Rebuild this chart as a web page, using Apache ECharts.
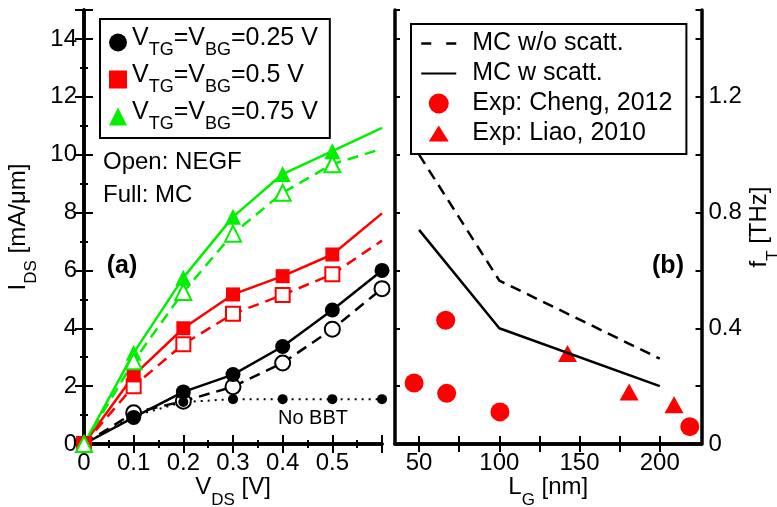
<!DOCTYPE html>
<html>
<head>
<meta charset="utf-8">
<script src="https://cdn.jsdelivr.net/npm/echarts@6/dist/echarts.min.js"></script>
<style>html,body{margin:0;padding:0;background:#fff}#c{width:777px;height:507px}</style>
</head>
<body>
<div id="c"></div>
<script>
// ---------- data: panel (a) ----------
const vds      = [0, 0.1, 0.2, 0.3, 0.4, 0.5, 0.6];
const mc025    = [0, 0.92, 1.8, 2.4, 3.37, 4.63, 6.0];
const negf025  = [0, 1.08, 1.48, 1.98, 2.8, 3.97, 5.37];
const noBBT    = [0, 0.97, 1.45, 1.55, 1.55, 1.55, 1.55];
const mc05     = [0, 2.37, 4.0, 5.17, 5.8, 6.55, 7.97];
const negf05   = [0, 2.0, 3.45, 4.5, 5.15, 5.87, 7.03];
const mc075    = [0, 3.15, 5.75, 7.85, 9.33, 10.12, 10.93];
const negf075  = [0, 2.86, 5.25, 7.27, 8.68, 9.67, 10.2];
const vdsTicks = [0, 0.1, 0.2, 0.3, 0.4, 0.5];
// ---------- data: panel (b) ----------
const lgLine       = [50, 100, 200];
const ftNoScatt    = [1.0, 0.565, 0.295];
const ftScatt      = [0.74, 0.40, 0.20];
const chengLg      = [46.9, 66.6, 67.2, 100.4, 218.7];
const chengFt      = [0.211, 0.428, 0.175, 0.111, 0.060];
const liaoLg       = [142.5, 180.9, 208.9];
const liaoFt       = [0.313, 0.180, 0.136];
const lgTickLabels = [50, 100, 150, 200];
const lgTicks      = [50, 75, 100, 125, 150, 175, 200];
const ftTickLabels = [0, 0.4, 0.8, 1.2];

const FONT = '"Liberation Sans", Arial, Helvetica, sans-serif';
const RED = '#ff0000', GREEN = '#00f000', BLACK = '#000000';

function pairs(xs, ys) { return xs.map((x, i) => [x, ys[i]]); }
function pairsNoSym(xs, ys, noSym) {
  return xs.map((x, i) => noSym.indexOf(i) >= 0 ? {value: [x, ys[i]], symbol: 'none'} : [x, ys[i]]);
}

const richSub = {
  n: {fontSize: 24, fontFamily: FONT, color: '#000', verticalAlign: 'top', lineHeight: 24},
  s: {fontSize: 17, fontFamily: FONT, color: '#000', verticalAlign: 'bottom', lineHeight: 34}
};
const richLeg = {
  n: {fontSize: 25, fontFamily: FONT, color: '#000', verticalAlign: 'top', lineHeight: 25},
  s: {fontSize: 18, fontFamily: FONT, color: '#000', verticalAlign: 'bottom', lineHeight: 33}
};

const legNames = {
  'g025': '{n|V}{s|TG}{n|=V}{s|BG}{n|=0.25 V}',
  'g05':  '{n|V}{s|TG}{n|=V}{s|BG}{n|=0.5 V}',
  'g075': '{n|V}{s|TG}{n|=V}{s|BG}{n|=0.75 V}'
};

const TRI_ICON = 'path://M0,0 L0,0 M0,18 L10,2 L20,18 Z M20,20 L20,20';
const hiddenSym = {color: 'rgba(0,0,0,0)', borderColor: 'rgba(0,0,0,0)', borderWidth: 0, opacity: 0};

const axisLine = {show: true, lineStyle: {color: BLACK, width: 3.5}};
const tick = {show: true, inside: true, length: 9, lineStyle: {color: BLACK, width: 2}};
const minor = {show: true, splitNumber: 2, length: 4, lineStyle: {color: BLACK, width: 2}};
const lbl = {color: BLACK, fontSize: 24, fontFamily: FONT, margin: 7};

const dash = [11, 7];

const option = {
  animation: false,
  backgroundColor: '#fff',
  grid: [
    {left: 84, top: 10, width: 298, height: 434, outerBoundsMode: 'none', containLabel: false},
    {left: 395, top: 10, width: 306.5, height: 434, outerBoundsMode: 'none', containLabel: false}
  ],
  xAxis: [
    {gridIndex: 0, type: 'value', position: 'bottom', min: 0, max: 0.6, interval: 0.1,
     axisLine, axisTick: tick, minorTick: minor, splitLine: {show: false},
     axisLabel: Object.assign({}, lbl, {formatter: v => vdsTicks.some(t => Math.abs(t - v) < 1e-6) ? String(+v.toFixed(1)) : ''}),
     name: '{n|V}{s|DS}{n| [V]}', nameLocation: 'middle', nameGap: 31, nameMoveOverlap: false,
     nameTextStyle: {rich: richSub, verticalAlign: 'top'}},
    {gridIndex: 0, type: 'value', position: 'top', min: 0, max: 0.6, interval: 0.1,
     axisLine, axisTick: tick, minorTick: minor, splitLine: {show: false}, axisLabel: {show: false}},
    {gridIndex: 1, type: 'value', position: 'bottom', min: 35, max: 226,
     axisLine, axisTick: Object.assign({}, tick, {customValues: lgTicks, length: 8}),
     splitLine: {show: false},
     axisLabel: Object.assign({}, lbl, {customValues: lgTickLabels}),
     name: '{n|L}{s|G}{n| [nm]}', nameLocation: 'middle', nameGap: 31, nameMoveOverlap: false,
     nameTextStyle: {rich: richSub, verticalAlign: 'top'}},
    {gridIndex: 1, type: 'value', position: 'top', min: 35, max: 226,
     axisLine, axisTick: Object.assign({}, tick, {customValues: lgTicks, length: 8}),
     splitLine: {show: false}, axisLabel: {show: false}}
  ],
  yAxis: [
    {gridIndex: 0, type: 'value', position: 'left', min: 0, max: 15, interval: 2,
     axisLine, axisTick: tick, minorTick: minor, splitLine: {show: false},
     axisLabel: Object.assign({}, lbl, {formatter: v => (Math.round(v) % 2 === 0 && v < 15) ? String(v) : ''}),
     name: '{n|I}{s|DS}{n| [mA/μm]}', nameLocation: 'middle', nameGap: 44, nameRotate: 90,
     nameTextStyle: {rich: richSub}},
    {gridIndex: 0, type: 'value', position: 'right', min: 0, max: 15, interval: 2,
     axisLine, axisTick: tick, minorTick: minor, splitLine: {show: false}, axisLabel: {show: false}},
    {gridIndex: 1, type: 'value', position: 'left', min: 0, max: 1.5, interval: 0.2,
     axisLine, axisTick: Object.assign({}, tick, {length: 5}), splitLine: {show: false}, axisLabel: {show: false}},
    {gridIndex: 1, type: 'value', position: 'right', min: 0, max: 1.5, interval: 0.2,
     axisLine, axisTick: Object.assign({}, tick, {length: 6}), splitLine: {show: false},
     axisLabel: Object.assign({}, lbl, {formatter: v => ftTickLabels.some(t => Math.abs(t - v) < 1e-6) ? String(+v.toFixed(1)) : ''}),
     name: '{n|f}{s|T}{n| [THz]}', nameLocation: 'middle', nameGap: 46, nameRotate: 90,
     nameTextStyle: {rich: richSub}}
  ],
  legend: [
    {orient: 'vertical', left: 100, top: 19, padding: [7, 12, 5, 9], itemGap: 4,
     itemWidth: 18, itemHeight: 18, borderColor: BLACK, borderWidth: 2, backgroundColor: '#fff',
     selectedMode: false, symbolKeepAspect: true,
     formatter: name => legNames[name],
     textStyle: {rich: richLeg},
     data: [{name: 'g025', icon: 'circle'}, {name: 'g05', icon: 'rect'}, {name: 'g075', icon: 'triangle'}]},
    {orient: 'vertical', left: 411, top: 24, padding: [7, 14, 8, 9], itemGap: 5,
     itemWidth: 35, itemHeight: 20, borderColor: BLACK, borderWidth: 2, backgroundColor: '#fff',
     selectedMode: false, symbolKeepAspect: true,
     textStyle: {fontSize: 25, fontFamily: FONT, color: BLACK, padding: [0, 0, 0, 11]},
     data: [{name: 'MC w/o scatt.', lineStyle: {type: [10, 15], width: 2.5}, itemStyle: hiddenSym},
            {name: 'MC w scatt.', itemStyle: hiddenSym},
            {name: 'Exp: Cheng, 2012', icon: 'circle'},
            {name: 'Exp: Liao, 2010', icon: TRI_ICON}]}
  ],
  series: [
    // black, VTG=VBG=0.25 V
    {name: 'negf025', type: 'line', xAxisIndex: 0, yAxisIndex: 0, data: pairsNoSym(vds, negf025, [0]),
     symbol: 'circle', symbolSize: 15, lineStyle: {color: BLACK, width: 2.5, type: dash},
     itemStyle: {color: '#fff', borderColor: BLACK, borderWidth: 2}},
    {name: 'nobbt', type: 'line', xAxisIndex: 0, yAxisIndex: 0, data: pairsNoSym(vds, noBBT, [0, 1]),
     symbol: 'circle', symbolSize: 10, lineStyle: {color: BLACK, width: 2, type: [2, 5]},
     itemStyle: {color: BLACK}},
    {name: 'g025', type: 'line', xAxisIndex: 0, yAxisIndex: 0, data: pairsNoSym(vds, mc025, [0]),
     symbol: 'circle', symbolSize: 15, lineStyle: {color: BLACK, width: 2.5}, itemStyle: {color: BLACK}},
    // red, 0.5 V
    {name: 'negf05', type: 'line', xAxisIndex: 0, yAxisIndex: 0, data: pairsNoSym(vds, negf05, [6]),
     symbol: 'rect', symbolSize: 14, lineStyle: {color: RED, width: 2.5, type: dash},
     itemStyle: {color: '#fff', borderColor: RED, borderWidth: 2}},
    {name: 'g05', type: 'line', xAxisIndex: 0, yAxisIndex: 0, data: pairsNoSym(vds, mc05, [6]),
     symbol: 'rect', symbolSize: 14, lineStyle: {color: RED, width: 2.5}, itemStyle: {color: RED}},
    // green, 0.75 V
    {name: 'g075', type: 'line', xAxisIndex: 0, yAxisIndex: 0, data: pairsNoSym(vds, mc075, [6]),
     symbol: 'triangle', symbolSize: [16, 16], lineStyle: {color: GREEN, width: 2.5}, itemStyle: {color: GREEN}},
    {name: 'negf075', type: 'line', xAxisIndex: 0, yAxisIndex: 0, data: pairsNoSym(vds, negf075, [6]),
     symbol: 'triangle', symbolSize: [16, 16], lineStyle: {color: GREEN, width: 2.5, type: dash},
     itemStyle: {color: '#fff', borderColor: GREEN, borderWidth: 2}},
    // panel (b)
    {name: 'MC w/o scatt.', type: 'line', xAxisIndex: 2, yAxisIndex: 2, data: pairs(lgLine, ftNoScatt),
     symbol: 'none', lineStyle: {color: BLACK, width: 2.5, type: dash}, itemStyle: {color: BLACK}},
    {name: 'MC w scatt.', type: 'line', xAxisIndex: 2, yAxisIndex: 2, data: pairs(lgLine, ftScatt),
     symbol: 'none', lineStyle: {color: BLACK, width: 2.5}, itemStyle: {color: BLACK}},
    {name: 'Exp: Cheng, 2012', type: 'scatter', xAxisIndex: 2, yAxisIndex: 2, data: pairs(chengLg, chengFt),
     symbol: 'circle', symbolSize: 19, itemStyle: {color: RED, opacity: 1}},
    {name: 'Exp: Liao, 2010', type: 'scatter', xAxisIndex: 2, yAxisIndex: 2, data: pairs(liaoLg, liaoFt),
     symbol: 'triangle', symbolSize: [19, 17], itemStyle: {color: RED, opacity: 1}}
  ],
  graphic: [
    {type: 'text', x: 103, y: 162, style: {text: 'Open: NEGF', font: '24px ' + FONT, fill: BLACK, align: 'left', verticalAlign: 'middle'}},
    {type: 'text', x: 103, y: 195, style: {text: 'Full: MC', font: '24px ' + FONT, fill: BLACK, align: 'left', verticalAlign: 'middle'}},
    {type: 'text', x: 122, y: 266, style: {text: '(a)', font: 'bold 25px ' + FONT, fill: BLACK, align: 'center', verticalAlign: 'middle'}},
    {type: 'text', x: 668, y: 266, style: {text: '(b)', font: 'bold 25px ' + FONT, fill: BLACK, align: 'center', verticalAlign: 'middle'}},
    {type: 'text', x: 278, y: 418, style: {text: 'No BBT', font: '20px ' + FONT, fill: BLACK, align: 'left', verticalAlign: 'middle'}}
  ]
};

const chart = echarts.init(document.getElementById('c'), null, {renderer: 'canvas'});
chart.setOption(option);
</script>
</body>
</html>
